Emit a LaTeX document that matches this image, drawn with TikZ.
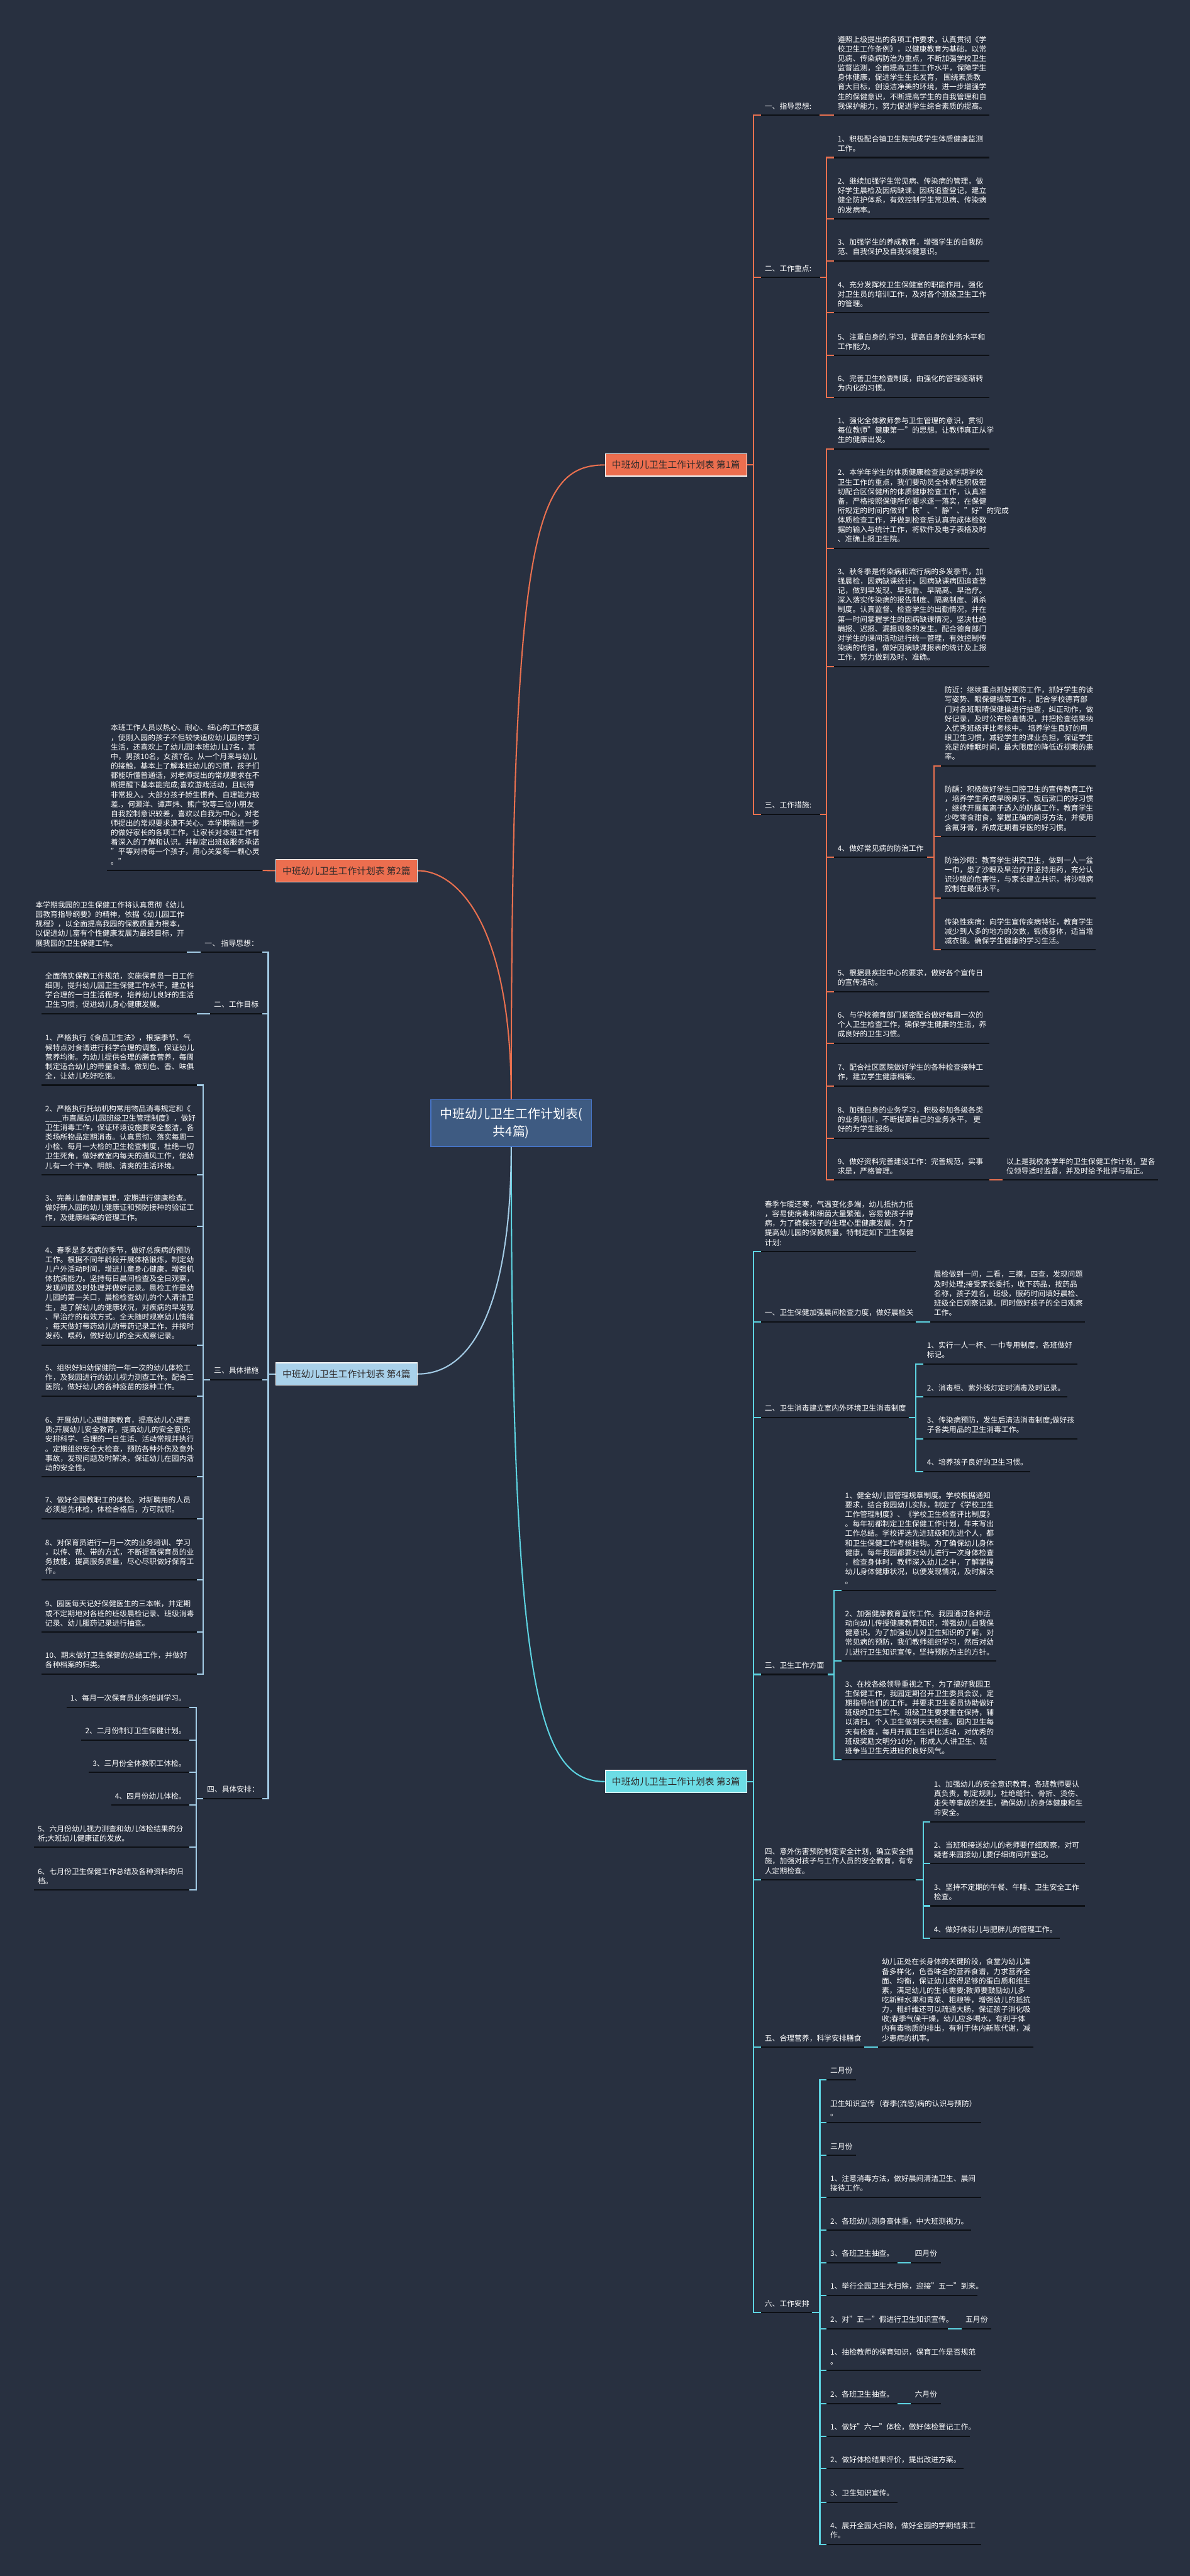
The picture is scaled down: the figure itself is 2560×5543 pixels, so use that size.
\documentclass[tikz,border=0pt]{standalone}
\usepackage{fontspec}
\setmainfont{Noto Sans CJK SC}
\definecolor{bgc}{HTML}{283040}
\definecolor{orc}{HTML}{E9704F}
\definecolor{orfill}{HTML}{EC6E4F}
\definecolor{cyc}{HTML}{5DD3E1}
\definecolor{cyfill}{HTML}{6CDCE5}
\definecolor{lbc}{HTML}{A3CBE5}
\definecolor{lbfill}{HTML}{A9D1EA}
\definecolor{ulc}{HTML}{0D1015}
\definecolor{rootfill}{HTML}{3E5B82}
\definecolor{rootdraw}{HTML}{4673C4}
\definecolor{boxtext}{HTML}{2E2A2A}
\newcommand\leaffont{\fontsize{8}{10.25}\selectfont}
\tikzset{
 leaf/.style={anchor=south west, inner xsep=4pt, inner ysep=3.5pt, align=left, text=white, font=\leaffont},
 uline/.style={draw=ulc, line width=1.4pt},
 conO/.style={draw=orc, line width=1.4pt},
 conC/.style={draw=cyc, line width=1.4pt},
 conB/.style={draw=lbc, line width=1.4pt},
 secbox/.style={draw=white!94!gray, line width=0.8pt, minimum width=152.5pt, minimum height=24pt, inner sep=0pt, text=boxtext, font=\fontsize{10}{12}\selectfont},
 rootbox/.style={fill=rootfill, draw=rootdraw, line width=1pt, minimum width=173pt, minimum height=50.5pt, inner sep=0pt, align=center, text=white, font=\fontsize{13.5}{19}\selectfont}
}
\newcommand\mmleaf[5]{%
 \coordinate (#1-l) at (#2,#4);
 \coordinate (#1-r) at (#3,#4);
 \node[leaf] (#1) at (#1-l) {#5\strut};
 \draw[uline] (#1-l) -- (#1-r);}
\begin{document}
\begin{tikzpicture}[x={(0.5pt,0)}, y={(0,-0.5pt)}]
\fill[bgc] (0,0) rectangle (2560,5543);
\useasboundingbox (0,0) rectangle (2560,5543);

% ---------- root ----------
\node[rootbox] (root) at (1100,2416.5) {中班幼儿卫生工作计划表(\\共4篇)};

% ---------- section boxes ----------
\node[secbox, fill=orfill] (s1) at (1454.5,1000.5) {中班幼儿卫生工作计划表 第1篇};
\node[secbox, fill=orfill] (s2) at (745.5,1873.5) {中班幼儿卫生工作计划表 第2篇};
\node[secbox, fill=cyfill] (s3) at (1454.5,3833.5) {中班幼儿卫生工作计划表 第3篇};
\node[secbox, fill=lbfill] (s4) at (745.5,2956.5) {中班幼儿卫生工作计划表 第4篇};

\draw[conO] (root.north) .. controls (1100,1150) and (1150,1000.5) .. (s1.west);
\draw[conO] (root.north) .. controls (1100,1980) and (980,1873.5) .. (s2.east);
\draw[conC] (root.south) .. controls (1100,3650) and (1160,3833.5) .. (s3.west);
\draw[conB] (root.south) .. controls (1100,2750) and (1040,2956.5) .. (s4.east);

% ================= SECTION 1 =================
\mmleaf{A1}{1637}{1763}{248}{一、指导思想:}
\mmleaf{A1a}{1794}{2128}{248}{遵照上级提出的各项工作要求，认真贯彻《学\\校卫生工作条例》，以健康教育为基础，以常\\见病、传染病防治为重点，不断加强学校卫生\\监督监测，全面提高卫生工作水平，保障学生\\身体健康，促进学生生长发育， 围绕素质教\\育大目标，创设洁净美的环境，进一步增强学\\生的保健意识，不断提高学生的自我管理和自\\我保护能力，努力促进学生综合素质的提高。}
\mmleaf{A2}{1637}{1764}{597}{二、工作重点:}
\mmleaf{A2a}{1794}{2128}{339}{1、积极配合镇卫生院完成学生体质健康监测\\工作。}
\mmleaf{A2b}{1794}{2128}{471}{2、继续加强学生常见病、传染病的管理，做\\好学生晨检及因病缺课、因病追查登记，建立\\健全防护体系，有效控制学生常见病、传染病\\的发病率。}
\mmleaf{A2c}{1794}{2128}{561}{3、加强学生的养成教育，增强学生的自我防\\范、自我保护及自我保健意识。}
\mmleaf{A2d}{1794}{2128}{673}{4、充分发挥校卫生保健室的职能作用，强化\\对卫生员的培训工作，及对各个班级卫生工作\\的管理。}
\mmleaf{A2e}{1794}{2128}{765}{5、注重自身的.学习，提高自身的业务水平和\\工作能力。}
\mmleaf{A2f}{1794}{2128}{855}{6、完善卫生检查制度，由强化的管理逐渐转\\为内化的习惯。}
\mmleaf{A3}{1637}{1764}{1752}{三、工作措施:}
\mmleaf{A3a}{1794}{2128}{966}{1、强化全体教师参与卫生管理的意识，贯彻\\每位教师"健康第一"的思想。让教师真正从学\\生的健康出发。}
\mmleaf{A3b}{1794}{2128}{1180}{2、本学年学生的体质健康检查是这学期学校\\卫生工作的重点，我们要动员全体师生积极密\\切配合区保健所的体质健康检查工作，认真准\\备，严格按照保健所的要求逐一落实，在保健\\所规定的时间内做到"快"、"静"、"好"的完成\\体质检查工作，并做到检查后认真完成体检数\\据的输入与统计工作，将软件及电子表格及时\\、准确上报卫生院。}
\mmleaf{A3c}{1794}{2128}{1434}{3、秋冬季是传染病和流行病的多发季节，加\\强晨检，因病缺课统计，因病缺课病因追查登\\记，做到早发现、早报告、早隔离、早治疗。\\深入落实传染病的报告制度、隔离制度、消杀\\制度。认真监督、检查学生的出勤情况，并在\\第一时间掌握学生的因病缺课情况，坚决杜绝\\瞒报、迟报、漏报现象的发生。配合德育部门\\对学生的课间活动进行统一管理，有效控制传\\染病的传播，做好因病缺课报表的统计及上报\\工作，努力做到及时、准确。}
\mmleaf{A3d}{1794}{1995}{1845}{4、做好常见病的防治工作}
\mmleaf{A3da}{2024}{2358}{1648}{防近：继续重点抓好预防工作，抓好学生的读\\写姿势、眼保健操等工作 ，配合学校德育部\\门对各班眼睛保健操进行抽查，纠正动作，做\\好记录，及时公布检查情况，并把检查结果纳\\入优秀班级评比考核中。 培养学生良好的用\\眼卫生习惯，减轻学生的课业负担，保证学生\\充足的睡眠时间，最大限度的降低近视眼的患\\率。}
\mmleaf{A3db}{2024}{2358}{1800}{防龋：积极做好学生口腔卫生的宣传教育工作\\，培养学生养成早晚刷牙、饭后漱口的好习惯\\，继续开展氟离子透入的防龋工作，教育学生\\少吃零食甜食，掌握正确的刷牙方法，并使用\\含氟牙膏，养成定期看牙医的好习惯。}
\mmleaf{A3dc}{2024}{2358}{1932}{防治沙眼：教育学生讲究卫生，做到一人一盆\\一巾，患了沙眼及早治疗并坚持用药，充分认\\识沙眼的危害性，与家长建立共识，将沙眼病\\控制在最低水平。}
\mmleaf{A3dd}{2024}{2358}{2044}{传染性疾病：向学生宣传疾病特征，教育学生\\减少到人多的地方的次数，锻炼身体，适当增\\减衣服。确保学生健康的学习生活。}
\mmleaf{A3e}{1794}{2128}{2134}{5、根据县疾控中心的要求，做好各个宣传日\\的宣传活动。}
\mmleaf{A3f}{1794}{2128}{2245}{6、与学校德育部门紧密配合做好每周一次的\\个人卫生检查工作，确保学生健康的生活，养\\成良好的卫生习惯。}
\mmleaf{A3g}{1794}{2128}{2337}{7、配合社区医院做好学生的各种检查接种工\\作，建立学生健康档案。}
\mmleaf{A3h}{1794}{2128}{2449}{8、加强自身的业务学习，积极参加各级各类\\的业务培训，不断提高自己的业务水平， 更\\好的为学生服务。}
\mmleaf{A3i}{1794}{2128}{2539}{9、做好资料完善建设工作：完善规范，实事\\求是，严格管理。}
\mmleaf{A3j}{2157}{2492}{2539}{以上是我校本学年的卫生保健工作计划，望各\\位领导适时监督，并及时给予批评与指正。}

\foreach \c in {A1,A2,A3}{\draw[conO] (s1.east) -- ++(14,0) |- (\c-l);}
\draw[conO] (A1-r) -- (A1a-l);
\foreach \c in {A2a,A2b,A2c,A2d,A2e,A2f}{\draw[conO] (A2-r) -- ++(14,0) |- (\c-l);}
\foreach \c in {A3a,A3b,A3c,A3d,A3e,A3f,A3g,A3h,A3i}{\draw[conO] (A3-r) -- ++(14,0) |- (\c-l);}
\foreach \c in {A3da,A3db,A3dc,A3dd}{\draw[conO] (A3d-r) -- ++(14,0) |- (\c-l);}
\draw[conO] (A3i-r) -- (A3j-l);

% ================= SECTION 2 =================
\mmleaf{C1}{230}{565}{1873}{本班工作人员以热心、耐心、细心的工作态度\\，使刚入园的孩子不但较快适应幼儿园的学习\\生活，还喜欢上了幼儿园!本班幼儿17名，其\\中，男孩10名，女孩7名。从一个月来与幼儿\\的接触，基本上了解本班幼儿的习惯，孩子们\\都能听懂普通话，对老师提出的常规要求在不\\断提醒下基本能完成;喜欢游戏活动，且玩得\\非常投入。大部分孩子娇生惯养、自理能力较\\差.，何灏洋、谭声炜、熊广钦等三位小朋友\\自我控制意识较差，喜欢以自我为中心，对老\\师提出的常规要求漠不关心。本学期需进一步\\的做好家长的各项工作，让家长对本班工作有\\着深入的了解和认识。并制定出班级服务承诺\\"平等对待每一个孩子，用心关爱每一颗心灵\\。"}
\draw[conO] (s2.west) -- (C1-r);

% ================= SECTION 3 =================
\mmleaf{B0}{1637}{1970}{2693}{春季乍暖还寒，气温变化多端，幼儿抵抗力低\\，容易使病毒和细菌大量繁殖，容易使孩子得\\病，为了确保孩子的生理心里健康发展，为了\\提高幼儿园的保教质量，特制定如下卫生保健\\计划:}
\mmleaf{B1}{1637}{1970}{2844}{一、卫生保健加强晨间检查力度，做好晨检关}
\mmleaf{B1a}{2001}{2335}{2844}{晨检做到一问，二看，三摸，四查，发现问题\\及时处理;接受家长委托，收下药品，按药品\\名称，孩子姓名，班级，服药时间填好晨检、\\班级全日观察记录。同时做好孩子的全日观察\\工作。}
\mmleaf{B2}{1637}{1955}{3050}{二、卫生消毒建立室内外环境卫生消毒制度}
\mmleaf{B2a}{1986}{2318}{2935}{1、实行一人一杯、一巾专用制度，各班做好\\标记。}
\mmleaf{B2b}{1986}{2296}{3006}{2、消毒柜、紫外线灯定时消毒及时记录。}
\mmleaf{B2c}{1986}{2318}{3096}{3、传染病预防，发生后清洁消毒制度;做好孩\\子各类用品的卫生消毒工作。}
\mmleaf{B2d}{1986}{2217}{3166}{4、培养孩子良好的卫生习惯。}
\mmleaf{B3}{1637}{1781}{3603}{三、卫生工作方面}
\mmleaf{B3a}{1810}{2144}{3422}{1、健全幼儿园管理规章制度。学校根据通知\\要求，结合我园幼儿实际，制定了《学校卫生\\工作管理制度》、《学校卫生检查评比制度》\\。每年初都制定卫生保健工作计划，年末写出\\工作总结。学校评选先进班级和先进个人，都\\和卫生保健工作考核挂钩。为了确保幼儿身体\\健康，每年我园都要对幼儿进行一次身体检查\\，检查身体时，教师深入幼儿之中，了解掌握\\幼儿身体健康状况，以便发现情况，及时解决\\。}
\mmleaf{B3b}{1810}{2144}{3574}{2、加强健康教育宣传工作。我园通过各种活\\动向幼儿传授健康教育知识，增强幼儿自我保\\健意识。为了加强幼儿对卫生知识的了解，对\\常见病的预防，我们教师组织学习，然后对幼\\儿进行卫生知识宣传，坚持预防为主的方针。}
\mmleaf{B3c}{1810}{2144}{3787}{3、在校各级领导重视之下，为了搞好我园卫\\生保健工作，我园定期召开卫生委员会议，定\\期指导他们的工作。并要求卫生委员协助做好\\班级的卫生工作。班级卫生要求重在保持，辅\\以清扫。个人卫生做到天天检查。园内卫生每\\天有检查，每月开展卫生评比活动，对优秀的\\班级奖励文明分10分，形成人人讲卫生、班\\班争当卫生先进班的良好风气。}
\mmleaf{B4}{1637}{1970}{4045}{四、意外伤害预防制定安全计划，确立安全措\\施，加强对孩子与工作人员的安全教育，有专\\人定期检查。}
\mmleaf{B4a}{2001}{2335}{3920}{1、加强幼儿的安全意识教育，各班教师要认\\真负责，制定规则，杜绝缝针、骨折、烫伤、\\走失等事故的发生，确保幼儿的身体健康和生\\命安全。}
\mmleaf{B4b}{2001}{2335}{4010}{2、当班和接送幼儿的老师要仔细观察，对可\\疑者来园接幼儿要仔细询问并登记。}
\mmleaf{B4c}{2001}{2335}{4101}{3、坚持不定期的午餐、午睡、卫生安全工作\\检查。}
\mmleaf{B4d}{2001}{2280}{4171}{4、做好体弱儿与肥胖儿的管理工作。}
\mmleaf{B5}{1637}{1859}{4405}{五、合理营养，科学安排膳食}
\mmleaf{B5a}{1889}{2223}{4405}{幼儿正处在长身体的关键阶段，食堂为幼儿准\\备多样化，色香味全的营养食谱，力求营养全\\面、均衡，保证幼儿获得足够的蛋白质和维生\\素，满足幼儿的生长需要;教师要鼓励幼儿多\\吃新鲜水果和青菜、粗粮等，增强幼儿的抵抗\\力，粗纤维还可以疏通大肠，保证孩子消化吸\\收;春季气候干燥，幼儿应多喝水，有利于体\\内有毒物质的排出，有利于体内新陈代谢，减\\少患病的机率。}
\mmleaf{B6}{1637}{1747}{4976}{六、工作安排}
\mmleaf{B6a}{1778}{1842}{4475}{二月份}
\mmleaf{B6b}{1778}{2111}{4567}{卫生知识宣传（春季(流感)病的认识与预防）\\。}
\mmleaf{B6c}{1778}{1842}{4638}{三月份}
\mmleaf{B6d}{1778}{2111}{4728}{1、注意消毒方法，做好晨间清洁卫生、晨间\\接待工作。}
\mmleaf{B6e}{1778}{2090}{4799}{2、各班幼儿测身高体重，中大班测视力。}
\mmleaf{B6f}{1778}{1931}{4869}{3、各班卫生抽查。}
\mmleaf{B6fx}{1960}{2024}{4869}{四月份}
\mmleaf{B6g}{1778}{2103}{4939}{1、举行全园卫生大扫除，迎接"五一"到来。}
\mmleaf{B6h}{1778}{2040}{5011}{2、对"五一"假进行卫生知识宣传。}
\mmleaf{B6hx}{2069}{2133}{5011}{五月份}
\mmleaf{B6i}{1778}{2111}{5101}{1、抽检教师的保育知识，保育工作是否规范\\。}
\mmleaf{B6j}{1778}{1931}{5172}{2、各班卫生抽查。}
\mmleaf{B6jx}{1960}{2024}{5172}{六月份}
\mmleaf{B6k}{1778}{2087}{5242}{1、做好"六一"体检，做好体检登记工作。}
\mmleaf{B6l}{1778}{2073}{5312}{2、做好体检结果评价，提出改进方案。}
\mmleaf{B6m}{1778}{1931}{5384}{3、卫生知识宣传。}
\mmleaf{B6n}{1778}{2111}{5475}{4、展开全园大扫除，做好全园的学期结束工\\作。}

\foreach \c in {B0,B1,B2,B3,B4,B5,B6}{\draw[conC] (s3.east) -- ++(14,0) |- (\c-l);}
\draw[conC] (B1-r) -- (B1a-l);
\foreach \c in {B2a,B2b,B2c,B2d}{\draw[conC] (B2-r) -- ++(15,0) |- (\c-l);}
\foreach \c in {B3a,B3b,B3c}{\draw[conC] (B3-r) -- ++(14,0) |- (\c-l);}
\foreach \c in {B4a,B4b,B4c,B4d}{\draw[conC] (B4-r) -- ++(16,0) |- (\c-l);}
\draw[conC] (B5-r) -- (B5a-l);
\foreach \c in {B6a,B6b,B6c,B6d,B6e,B6f,B6g,B6h,B6i,B6j,B6k,B6l,B6m,B6n}{\draw[conC] (B6-r) -- ++(17,0) |- (\c-l);}
\draw[conC] (B6f-r) -- (B6fx-l);
\draw[conC] (B6h-r) -- (B6hx-l);
\draw[conC] (B6j-r) -- (B6jx-l);

% ================= SECTION 4 =================
\mmleaf{D1}{432}{564}{2049}{一、 指导思想：}
\mmleaf{D1a}{68}{402}{2049}{本学期我园的卫生保健工作将认真贯彻《幼儿\\园教育指导纲要》的精神，依据《幼儿园工作\\规程》，以全面提高我园的保教质量为根本，\\以促进幼儿富有个性健康发展为最终目标，开\\展我园的卫生保健工作。}
\mmleaf{D2}{452}{564}{2181}{二、工作目标}
\mmleaf{D2a}{89}{423}{2181}{全面落实保教工作规范，实施保育员一日工作\\细则，提升幼儿园卫生保健工作水平，建立科\\学合理的一日生活程序，培养幼儿良好的生活\\卫生习惯，促进幼儿身心健康发展。}
\mmleaf{D3}{452}{564}{2969}{三、具体措施}
\mmleaf{D3a}{89}{423}{2335}{1、严格执行《食品卫生法》，根据季节、气\\候特点对食谱进行科学合理的调整，保证幼儿\\营养均衡。为幼儿提供合理的膳食营养，每周\\制定适合幼儿的带量食谱。做到色、香、味俱\\全，让幼儿吃好吃饱。}
\mmleaf{D3b}{89}{423}{2528}{2、严格执行托幼机构常用物品消毒规定和《\\\_\_\_\_市直属幼儿园班级卫生管理制度》，做好\\卫生消毒工作，保证环境设施要安全整洁，各\\类场所物品定期消毒。认真贯彻、落实每周一\\小检、每月一大检的卫生检查制度，杜绝一切\\卫生死角，做好教室内每天的通风工作，使幼\\儿有一个干净、明朗、清爽的生活环境。}
\mmleaf{D3c}{89}{423}{2639}{3、完善儿童健康管理，定期进行健康检查。\\做好新入园的幼儿健康证和预防接种的验证工\\作，及健康档案的管理工作。}
\mmleaf{D3d}{89}{423}{2894}{4、春季是多发病的季节，做好总疾病的预防\\工作。根据不同年龄段开展体格锻炼，制定幼\\儿户外活动时间，增进儿童身心健康，增强机\\体抗病能力。坚持每日晨间检查及全日观察，\\发现问题及时处理并做好记录。晨检工作是幼\\儿园的第一关口，晨检检查幼儿的个人清洁卫\\生，是了解幼儿的健康状况，对疾病的早发现\\、早治疗的有效方式。全天随时观察幼儿情绪\\，每天做好带药幼儿的带药记录工作，并按时\\发药、喂药，做好幼儿的全天观察记录。}
\mmleaf{D3e}{89}{423}{3004}{5、组织好妇幼保健院一年一次的幼儿体检工\\作，及我园进行的幼儿视力测查工作。配合三\\医院，做好幼儿的各种疫苗的接种工作。}
\mmleaf{D3f}{89}{423}{3178}{6、开展幼儿心理健康教育，提高幼儿心理素\\质;开展幼儿安全教育，提高幼儿的安全意识;\\安排科学、合理的一日生活、活动常规并执行\\。定期组织安全大检查，预防各种外伤及意外\\事故，发现问题及时解决，保证幼儿在园内活\\动的安全性。}
\mmleaf{D3g}{89}{423}{3268}{7、做好全园教职工的体检。对新聘用的人员\\必须是先体检，体检合格后，方可就职。}
\mmleaf{D3h}{89}{423}{3400}{8、对保育员进行一月一次的业务培训、学习\\，以传、帮、带的方式，不断提高保育员的业\\务技能，提高服务质量，尽心尽职做好保育工\\作。}
\mmleaf{D3i}{89}{423}{3512}{9、园医每天记好保健医生的三本帐，并定期\\或不定期地对各班的班级晨检记录、班级消毒\\记录、幼儿服药记录进行抽查。}
\mmleaf{D3j}{89}{423}{3602}{10、期末做好卫生保健的总结工作，并做好\\各种档案的归类。}
\mmleaf{D4}{437}{564}{3870}{四、具体安排：}
\mmleaf{D4a}{143}{408}{3674}{1、每月一次保育员业务培训学习。}
\mmleaf{D4b}{175}{408}{3744}{2、二月份制订卫生保健计划。}
\mmleaf{D4c}{191}{408}{3814}{3、三月份全体教职工体检。}
\mmleaf{D4d}{239}{408}{3884}{4、四月份幼儿体检。}
\mmleaf{D4e}{73}{408}{3975}{5、六月份幼儿视力测查和幼儿体检结果的分\\析;大班幼儿健康证的发放。}
\mmleaf{D4f}{73}{408}{4067}{6、七月份卫生保健工作总结及各种资料的归\\档。}

\foreach \c in {D1,D2,D3,D4}{\draw[conB] (s4.west) -- ++(-15,0) |- (\c-r);}
\draw[conB] (D1-l) -- (D1a-r);
\draw[conB] (D2-l) -- (D2a-r);
\foreach \c in {D3a,D3b,D3c,D3d,D3e,D3f,D3g,D3h,D3i,D3j}{\draw[conB] (D3-l) -- ++(-15,0) |- (\c-r);}
\foreach \c in {D4a,D4b,D4c,D4d,D4e,D4f}{\draw[conB] (D4-l) -- ++(-15,0) |- (\c-r);}
\end{tikzpicture}
\end{document}
